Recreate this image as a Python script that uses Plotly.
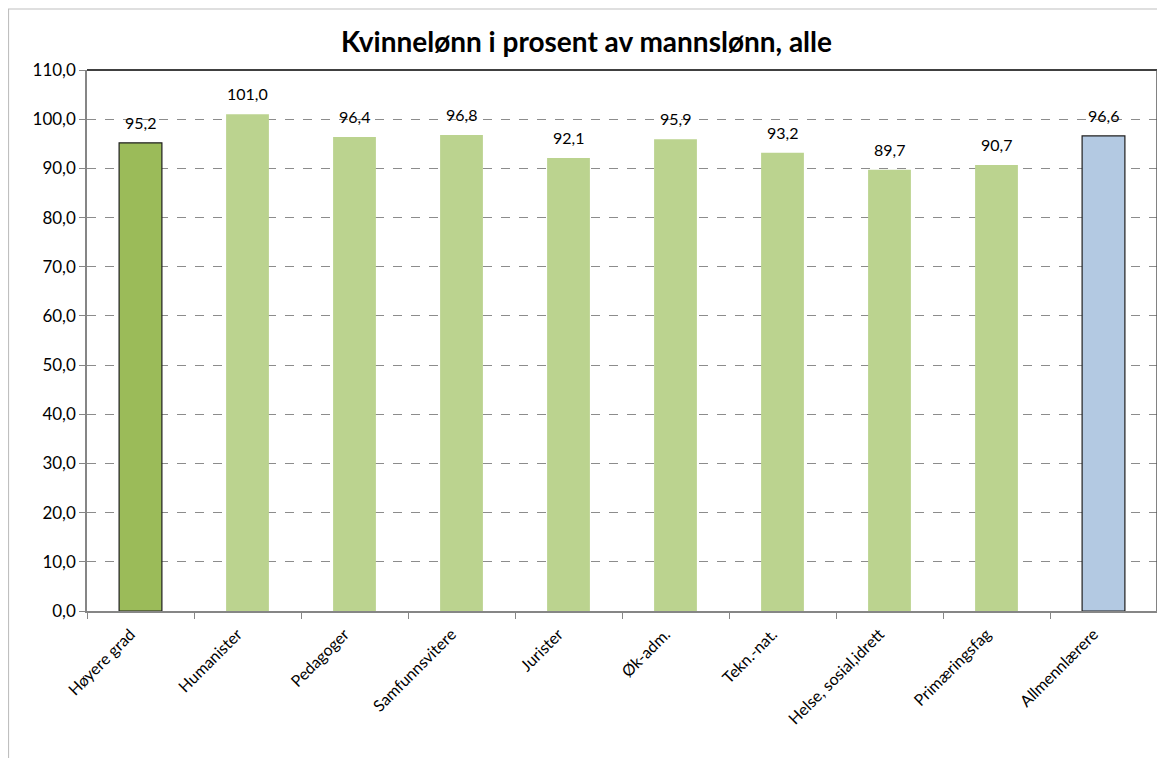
import plotly.graph_objects as go

categories = ["Høyere grad", "Humanister", "Pedagoger", "Samfunnsvitere", "Jurister",
              "Øk-adm.", "Tekn.-nat.", "Helse, sosial,idrett", "Primæringsfag", "Allmennlærere"]
values = [95.2, 101.0, 96.4, 96.8, 92.1, 95.9, 93.2, 89.7, 90.7, 96.6]
y_ticks = [0, 10, 20, 30, 40, 50, 60, 70, 80, 90, 100, 110]

colors = ["#9BBB59"] + ["#BBD38F"] * 8 + ["#B3C9E2"]
line_colors = ["#1F1F1F"] + ["#BBD38F"] * 8 + ["#1F1F1F"]
line_widths = [1.2] + [0] * 8 + [1.2]

labels = [f"{v:.1f}".replace(".", ",") for v in values]
font = "Lato, Carlito, Calibri, sans-serif"

W, H = 1157, 750
ML, MT, MR, MB = 79, 62, 8, 147
PW, PH = W - ML - MR, H - MT - MB

fig = go.Figure(go.Bar(
    x=categories, y=values, width=0.4,
    marker=dict(color=colors, line=dict(color=line_colors, width=line_widths)),
    hoverinfo="x+y",
))

for c, v, t in zip(categories, values, labels):
    fig.add_annotation(x=c, y=v, text=t, showarrow=False, yanchor="bottom", yshift=9,
                       font=dict(size=16, color="#000000", family=font))

fig.update_layout(
    width=W, height=H,
    paper_bgcolor="white", plot_bgcolor="white",
    margin=dict(l=ML, r=MR, t=MT, b=MB),
    title=dict(text="<b>Kvinnelønn i prosent av mannslønn, alle</b>", x=0.5, xanchor="center",
               y=1 - 34 / H, yanchor="middle",
               font=dict(size=28, color="#000000", family=font)),
    showlegend=False, bargap=0.6,
    font=dict(family=font, color="#000000"),
)
fig.update_xaxes(
    automargin=False,
    showline=True, linecolor="#868686", linewidth=1.5,
    ticks="outside", tickson="boundaries", ticklen=6, tickcolor="#868686",
    tickangle=-45, tickfont=dict(size=16, family=font), showgrid=False,
    ticklabelstandoff=6, ticklabelshift=-10,
)
fig.update_yaxes(
    automargin=False,
    range=[0, 110], tickvals=y_ticks,
    ticktext=[f"{t:.1f}".replace(".", ",") for t in y_ticks],
    showline=True, linecolor="#868686", linewidth=1.5,
    ticks="outside", ticklen=6, tickcolor="#868686",
    showgrid=True, gridcolor="#8C8C8C", griddash="dash", gridwidth=1,
    tickfont=dict(size=17, family=font), zeroline=False,
)
# plot area top and right borders
fig.add_shape(type="line", xref="paper", yref="paper", x0=0, x1=1, y0=1, y1=1,
              line=dict(color="#000000", width=1.5))
fig.add_shape(type="line", xref="paper", yref="paper", x0=1, x1=1, y0=0, y1=1,
              line=dict(color="#595959", width=1.5))
# outer chart frame
fig.add_shape(type="rect", xref="paper", yref="paper",
              x0=(0.5 - ML) / PW, x1=1.05, y0=-0.4, y1=1 + (MT - 1) / PH,
              line=dict(color="#BFBFBF", width=1.2), layer="below")

fig.write_html("out.html")
